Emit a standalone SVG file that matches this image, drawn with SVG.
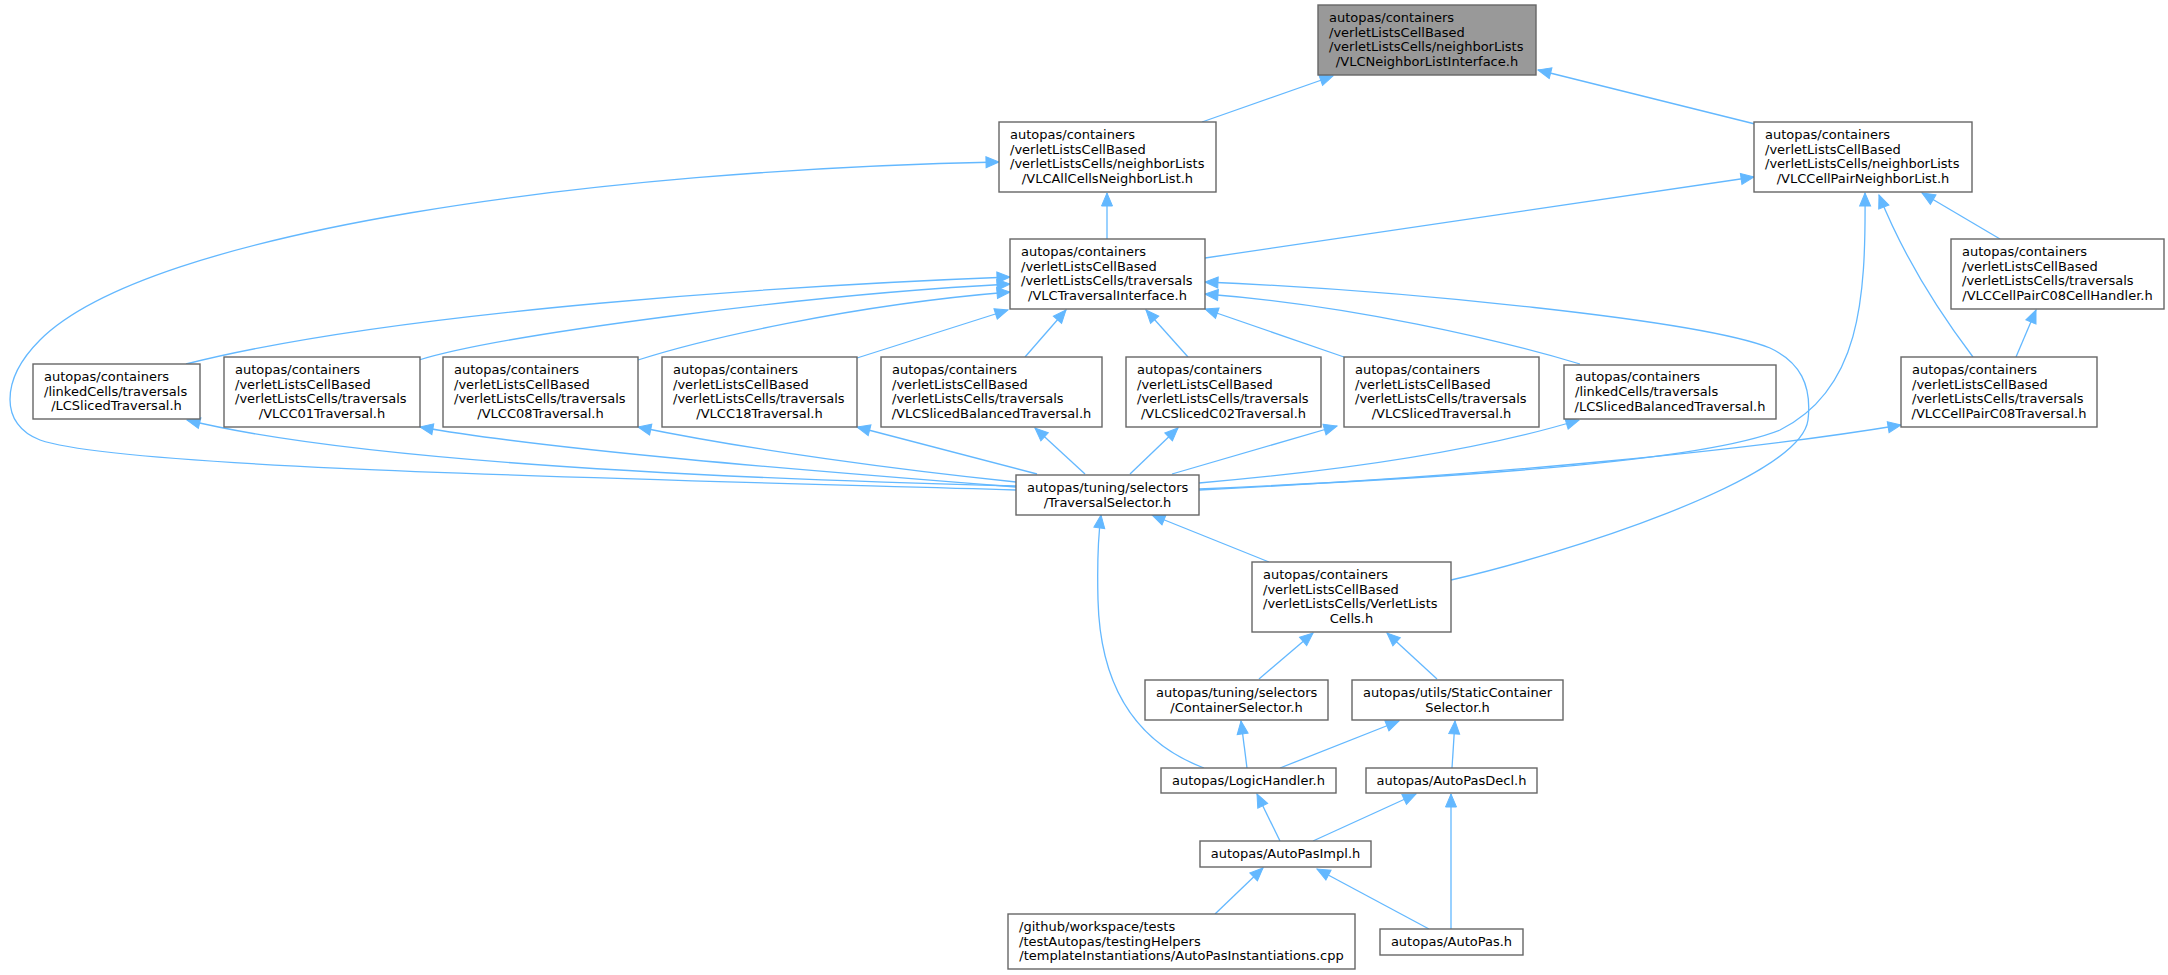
<svg xmlns="http://www.w3.org/2000/svg" width="2168" height="975" viewBox="0 0 2168 975">
<style>
.b{fill:#ffffff;stroke:#666666;stroke-width:1.4}
.g{fill:#999999;stroke:#666666;stroke-width:1.4}
text{font-family:"DejaVu Sans","Liberation Sans",sans-serif;font-size:13px;fill:#000000}
.m{text-anchor:middle}
.e path{fill:none;stroke:#63b8ff;stroke-width:1.3;marker-end:url(#a)}
</style>
<defs>
<marker id="a" markerUnits="userSpaceOnUse" markerWidth="14" markerHeight="13" refX="13" refY="6" orient="auto" overflow="visible">
<path d="M0,0.5 L13,6 L0,11.5 Z" fill="#63b8ff" stroke="#63b8ff" stroke-width="1"/>
</marker>
</defs>
<rect width="2168" height="975" fill="#ffffff"/>
<g class="e" id="edges">
<path d="M1202,122 L1333,76"/>
<path d="M1755,124 L1538,70"/>
<path d="M1107,239 L1107,193"/>
<path d="M1205,258 L1754,177"/>
<path d="M1016,490 C600,478 120,468 40,440 C0,425 0,380 40,340 C150,230 600,170 999,162"/>
<path d="M186,364 C400,310 800,285 1010,277"/>
<path d="M419,360 C500,335 800,295 1010,284"/>
<path d="M638,360 C700,340 850,305 1010,292"/>
<path d="M857,358 L1008,310"/>
<path d="M1025,357 L1066,310"/>
<path d="M1188,357 L1146,310"/>
<path d="M1344,357 L1205,309"/>
<path d="M1580,364 C1500,340 1350,305 1205,294"/>
<path d="M1451,580 C1560,555 1800,480 1808,420 C1812,385 1800,362 1770,348 C1700,320 1400,290 1205,282"/>
<path d="M1016,486 C700,478 350,460 187,420"/>
<path d="M1016,487 C800,470 550,450 420,427"/>
<path d="M1016,482 C900,470 750,450 638,427"/>
<path d="M1037,474 L857,427"/>
<path d="M1085,474 L1035,428"/>
<path d="M1130,474 L1178,428"/>
<path d="M1172,474 L1337,426"/>
<path d="M1199,483 C1350,470 1480,450 1579,420"/>
<path d="M1199,490 C1500,475 1750,450 1901,425"/>
<path d="M1199,489 C1450,478 1700,462 1780,430 C1860,390 1866,300 1865,193"/>
<path d="M1973,357 C1945,320 1905,260 1879,195"/>
<path d="M2016,357 L2036,310"/>
<path d="M2000,239 L1922,193"/>
<path d="M1269,562 L1152,515"/>
<path d="M1204,768 C1130,740 1100,680 1098,600 C1097,560 1099,530 1101,515"/>
<path d="M1259,679 L1313,633"/>
<path d="M1437,679 L1387,633"/>
<path d="M1247,768 L1241,721"/>
<path d="M1280,768 L1399,721"/>
<path d="M1452,768 L1455,721"/>
<path d="M1280,841 L1257,794"/>
<path d="M1313,841 L1416,794"/>
<path d="M1215,914 L1263,868"/>
<path d="M1429,929 L1317,869"/>
<path d="M1451,929 L1451,794"/>
</g>
<g id="n0"><rect class="g" x="1318" y="5" width="218" height="70"/>
<text x="1329" y="21.8">autopas/containers</text><text x="1329" y="36.5">/verletListsCellBased</text><text x="1329" y="51.2">/verletListsCells/neighborLists</text><text class="m" x="1427" y="65.9">/VLCNeighborListInterface.h</text></g>
<g id="n1"><rect class="b" x="999" y="122" width="217" height="70"/>
<text x="1010" y="138.8">autopas/containers</text><text x="1010" y="153.5">/verletListsCellBased</text><text x="1010" y="168.2">/verletListsCells/neighborLists</text><text class="m" x="1107.5" y="182.9">/VLCAllCellsNeighborList.h</text></g>
<g id="n2"><rect class="b" x="1754" y="122" width="218" height="70"/>
<text x="1765" y="138.8">autopas/containers</text><text x="1765" y="153.5">/verletListsCellBased</text><text x="1765" y="168.2">/verletListsCells/neighborLists</text><text class="m" x="1863" y="182.9">/VLCCellPairNeighborList.h</text></g>
<g id="n3"><rect class="b" x="1010" y="239" width="195" height="70"/>
<text x="1021" y="255.8">autopas/containers</text><text x="1021" y="270.5">/verletListsCellBased</text><text x="1021" y="285.2">/verletListsCells/traversals</text><text class="m" x="1107.5" y="299.9">/VLCTraversalInterface.h</text></g>
<g id="n4"><rect class="b" x="1951" y="239" width="213" height="70"/>
<text x="1962" y="255.8">autopas/containers</text><text x="1962" y="270.5">/verletListsCellBased</text><text x="1962" y="285.2">/verletListsCells/traversals</text><text class="m" x="2057.5" y="299.9">/VLCCellPairC08CellHandler.h</text></g>
<g id="n5"><rect class="b" x="33" y="364" width="167" height="55"/>
<text x="44" y="380.8">autopas/containers</text><text x="44" y="395.5">/linkedCells/traversals</text><text class="m" x="116.5" y="410.2">/LCSlicedTraversal.h</text></g>
<g id="n6"><rect class="b" x="224" y="357" width="196" height="70"/>
<text x="235" y="373.8">autopas/containers</text><text x="235" y="388.5">/verletListsCellBased</text><text x="235" y="403.2">/verletListsCells/traversals</text><text class="m" x="322" y="417.9">/VLCC01Traversal.h</text></g>
<g id="n7"><rect class="b" x="443" y="357" width="195" height="70"/>
<text x="454" y="373.8">autopas/containers</text><text x="454" y="388.5">/verletListsCellBased</text><text x="454" y="403.2">/verletListsCells/traversals</text><text class="m" x="540.5" y="417.9">/VLCC08Traversal.h</text></g>
<g id="n8"><rect class="b" x="662" y="357" width="195" height="70"/>
<text x="673" y="373.8">autopas/containers</text><text x="673" y="388.5">/verletListsCellBased</text><text x="673" y="403.2">/verletListsCells/traversals</text><text class="m" x="759.5" y="417.9">/VLCC18Traversal.h</text></g>
<g id="n9"><rect class="b" x="881" y="357" width="221" height="70"/>
<text x="892" y="373.8">autopas/containers</text><text x="892" y="388.5">/verletListsCellBased</text><text x="892" y="403.2">/verletListsCells/traversals</text><text class="m" x="991.5" y="417.9">/VLCSlicedBalancedTraversal.h</text></g>
<g id="n10"><rect class="b" x="1126" y="357" width="195" height="70"/>
<text x="1137" y="373.8">autopas/containers</text><text x="1137" y="388.5">/verletListsCellBased</text><text x="1137" y="403.2">/verletListsCells/traversals</text><text class="m" x="1223.5" y="417.9">/VLCSlicedC02Traversal.h</text></g>
<g id="n11"><rect class="b" x="1344" y="357" width="195" height="70"/>
<text x="1355" y="373.8">autopas/containers</text><text x="1355" y="388.5">/verletListsCellBased</text><text x="1355" y="403.2">/verletListsCells/traversals</text><text class="m" x="1441.5" y="417.9">/VLCSlicedTraversal.h</text></g>
<g id="n12"><rect class="b" x="1564" y="365" width="212" height="54"/>
<text x="1575" y="381.3">autopas/containers</text><text x="1575" y="396">/linkedCells/traversals</text><text class="m" x="1670" y="410.7">/LCSlicedBalancedTraversal.h</text></g>
<g id="n13"><rect class="b" x="1901" y="357" width="196" height="70"/>
<text x="1912" y="373.8">autopas/containers</text><text x="1912" y="388.5">/verletListsCellBased</text><text x="1912" y="403.2">/verletListsCells/traversals</text><text class="m" x="1999" y="417.9">/VLCCellPairC08Traversal.h</text></g>
<g id="n14"><rect class="b" x="1016" y="475" width="183" height="40"/>
<text x="1027" y="491.8">autopas/tuning/selectors</text><text class="m" x="1107.5" y="506.5">/TraversalSelector.h</text></g>
<g id="n15"><rect class="b" x="1252" y="562" width="199" height="70"/>
<text x="1263" y="578.8">autopas/containers</text><text x="1263" y="593.5">/verletListsCellBased</text><text x="1263" y="608.2">/verletListsCells/VerletLists</text><text class="m" x="1351.5" y="622.9">Cells.h</text></g>
<g id="n16"><rect class="b" x="1145" y="680" width="183" height="40"/>
<text x="1156" y="696.8">autopas/tuning/selectors</text><text class="m" x="1236.5" y="711.5">/ContainerSelector.h</text></g>
<g id="n17"><rect class="b" x="1352" y="680" width="211" height="40"/>
<text x="1363" y="696.8">autopas/utils/StaticContainer</text><text class="m" x="1457.5" y="711.5">Selector.h</text></g>
<g id="n18"><rect class="b" x="1161" y="768" width="175" height="25"/>
<text class="m" x="1248.5" y="784.8">autopas/LogicHandler.h</text></g>
<g id="n19"><rect class="b" x="1366" y="768" width="171" height="25"/>
<text class="m" x="1451.5" y="784.8">autopas/AutoPasDecl.h</text></g>
<g id="n20"><rect class="b" x="1200" y="841" width="171" height="26"/>
<text class="m" x="1285.5" y="858">autopas/AutoPasImpl.h</text></g>
<g id="n21"><rect class="b" x="1008" y="914" width="347" height="55"/>
<text x="1019" y="930.8">/github/workspace/tests</text><text x="1019" y="945.5">/testAutopas/testingHelpers</text><text class="m" x="1181.5" y="960.2">/templateInstantiations/AutoPasInstantiations.cpp</text></g>
<g id="n22"><rect class="b" x="1380" y="929" width="143" height="26"/>
<text class="m" x="1451.5" y="946">autopas/AutoPas.h</text></g>
</svg>
